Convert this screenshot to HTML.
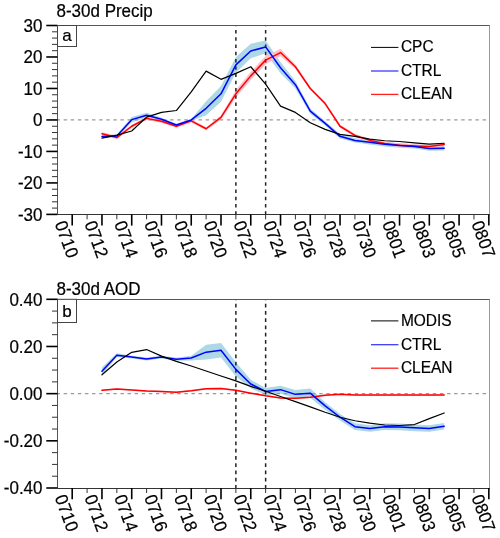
<!DOCTYPE html>
<html><head><meta charset="utf-8"><style>
html,body{margin:0;padding:0;background:#fff;width:500px;height:538px;overflow:hidden}
svg{display:block;will-change:transform}
text{font-family:'Liberation Sans',sans-serif;fill:#000;stroke:#000;stroke-width:0.2px}
</style></head><body>
<svg width="500" height="538" viewBox="0 0 500 538">
<rect width="500" height="538" fill="#fff"/>
<polygon points="101.96,134.90 116.84,134.43 131.72,117.12 146.60,112.71 161.48,117.75 176.36,123.73 191.24,119.01 206.12,101.37 221.00,85.95 235.88,56.98 250.76,43.76 265.64,40.61 280.52,62.02 295.40,80.91 310.28,108.62 325.16,121.21 340.04,134.12 354.92,138.21 369.80,140.10 384.68,141.99 399.56,143.25 414.44,144.19 429.32,146.40 444.20,146.08 444.20,150.49 429.32,150.80 414.44,148.60 399.56,147.66 384.68,146.40 369.80,144.51 354.92,142.62 340.04,138.53 325.16,125.62 310.28,113.65 295.40,88.47 280.52,73.35 265.64,53.21 250.76,58.24 235.88,72.72 221.00,101.69 206.12,115.23 191.24,120.89 176.36,126.25 161.48,120.89 146.60,117.75 131.72,122.15 116.84,137.58 101.96,138.05" fill="#add8e6" stroke="none"/>
<polygon points="101.96,132.07 116.84,136.01 131.72,124.67 146.60,116.80 161.48,119.64 176.36,124.67 191.24,119.32 206.12,127.19 221.00,115.23 235.88,90.04 250.76,71.78 265.64,56.04 280.52,48.80 295.40,64.54 310.28,86.89 325.16,102.00 340.04,124.67 354.92,133.80 369.80,138.84 384.68,141.99 399.56,143.56 414.44,144.35 429.32,144.82 444.20,142.93 444.20,146.08 429.32,147.97 414.44,147.50 399.56,146.71 384.68,145.14 369.80,141.99 354.92,136.95 340.04,127.82 325.16,105.15 310.28,90.04 295.40,68.95 280.52,56.35 265.64,64.22 250.76,79.97 235.88,97.60 221.00,119.64 206.12,130.34 191.24,122.47 176.36,127.82 161.48,122.78 146.60,119.95 131.72,127.82 116.84,139.15 101.96,135.22" fill="#ffc0cb" stroke="none"/>
<line x1="57.5" y1="119.95" x2="489.0" y2="119.95" stroke="#999" stroke-width="1.2" stroke-dasharray="3.4 3.7" stroke-dashoffset="0.95"/>
<line x1="235.88" y1="25.5" x2="235.88" y2="214.4" stroke="#222" stroke-width="1.5" stroke-dasharray="3.6 3.65" stroke-dashoffset="2.75"/>
<line x1="265.64" y1="25.5" x2="265.64" y2="214.4" stroke="#222" stroke-width="1.5" stroke-dasharray="3.6 3.65" stroke-dashoffset="2.75"/>
<polyline points="101.96,133.65 116.84,137.58 131.72,126.25 146.60,118.38 161.48,121.21 176.36,126.25 191.24,120.89 206.12,128.77 221.00,117.43 235.88,93.82 250.76,75.87 265.64,60.13 280.52,52.58 295.40,66.74 310.28,88.47 325.16,103.58 340.04,126.25 354.92,135.38 369.80,140.41 384.68,143.56 399.56,145.14 414.44,145.92 429.32,146.40 444.20,144.51" fill="none" stroke="#ff0000" stroke-width="1.5" stroke-linejoin="round" stroke-linecap="round"/>
<polyline points="101.96,136.48 116.84,136.01 131.72,119.64 146.60,115.23 161.48,119.32 176.36,124.99 191.24,119.95 206.12,108.30 221.00,93.82 235.88,64.85 250.76,51.00 265.64,46.91 280.52,67.69 295.40,84.69 310.28,111.13 325.16,123.41 340.04,136.32 354.92,140.41 369.80,142.30 384.68,144.19 399.56,145.45 414.44,146.40 429.32,148.60 444.20,148.29" fill="none" stroke="#0000ff" stroke-width="1.5" stroke-linejoin="round" stroke-linecap="round"/>
<polyline points="101.96,138.05 116.84,135.06 131.72,130.97 146.60,117.12 161.48,112.39 176.36,110.51 191.24,91.93 206.12,71.15 221.00,79.34 235.88,73.35 250.76,66.74 265.64,84.06 280.52,106.10 295.40,112.39 310.28,122.78 325.16,129.39 340.04,134.43 354.92,136.32 369.80,139.15 384.68,140.73 399.56,141.52 414.44,142.78 429.32,144.19 444.20,143.25" fill="none" stroke="#000" stroke-width="1.2" stroke-linejoin="round" stroke-linecap="round"/>
<line x1="57.5" y1="25.5" x2="490" y2="25.5" stroke="#555" stroke-width="1"/>
<line x1="57.5" y1="214.5" x2="490" y2="214.5" stroke="#333" stroke-width="1"/>
<line x1="57.5" y1="25.5" x2="57.5" y2="214.5" stroke="#555" stroke-width="1"/>
<line x1="489.5" y1="25.5" x2="489.5" y2="214.5" stroke="#999" stroke-width="1"/>
<line x1="46.3" y1="25.50" x2="57.5" y2="25.50" stroke="#000" stroke-width="1.6"/>
<line x1="46.3" y1="56.98" x2="57.5" y2="56.98" stroke="#000" stroke-width="1.6"/>
<line x1="46.3" y1="88.47" x2="57.5" y2="88.47" stroke="#000" stroke-width="1.6"/>
<line x1="46.3" y1="119.95" x2="57.5" y2="119.95" stroke="#000" stroke-width="1.6"/>
<line x1="46.3" y1="151.43" x2="57.5" y2="151.43" stroke="#000" stroke-width="1.6"/>
<line x1="46.3" y1="182.92" x2="57.5" y2="182.92" stroke="#000" stroke-width="1.6"/>
<line x1="46.3" y1="214.40" x2="57.5" y2="214.40" stroke="#000" stroke-width="1.6"/>
<line x1="52" y1="208.10" x2="57.5" y2="208.10" stroke="#333" stroke-width="1"/>
<line x1="52" y1="201.81" x2="57.5" y2="201.81" stroke="#333" stroke-width="1"/>
<line x1="52" y1="195.51" x2="57.5" y2="195.51" stroke="#333" stroke-width="1"/>
<line x1="52" y1="189.21" x2="57.5" y2="189.21" stroke="#333" stroke-width="1"/>
<line x1="52" y1="176.62" x2="57.5" y2="176.62" stroke="#333" stroke-width="1"/>
<line x1="52" y1="170.32" x2="57.5" y2="170.32" stroke="#333" stroke-width="1"/>
<line x1="52" y1="164.03" x2="57.5" y2="164.03" stroke="#333" stroke-width="1"/>
<line x1="52" y1="157.73" x2="57.5" y2="157.73" stroke="#333" stroke-width="1"/>
<line x1="52" y1="145.14" x2="57.5" y2="145.14" stroke="#333" stroke-width="1"/>
<line x1="52" y1="138.84" x2="57.5" y2="138.84" stroke="#333" stroke-width="1"/>
<line x1="52" y1="132.54" x2="57.5" y2="132.54" stroke="#333" stroke-width="1"/>
<line x1="52" y1="126.25" x2="57.5" y2="126.25" stroke="#333" stroke-width="1"/>
<line x1="52" y1="113.65" x2="57.5" y2="113.65" stroke="#333" stroke-width="1"/>
<line x1="52" y1="107.36" x2="57.5" y2="107.36" stroke="#333" stroke-width="1"/>
<line x1="52" y1="101.06" x2="57.5" y2="101.06" stroke="#333" stroke-width="1"/>
<line x1="52" y1="94.76" x2="57.5" y2="94.76" stroke="#333" stroke-width="1"/>
<line x1="52" y1="82.17" x2="57.5" y2="82.17" stroke="#333" stroke-width="1"/>
<line x1="52" y1="75.87" x2="57.5" y2="75.87" stroke="#333" stroke-width="1"/>
<line x1="52" y1="69.58" x2="57.5" y2="69.58" stroke="#333" stroke-width="1"/>
<line x1="52" y1="63.28" x2="57.5" y2="63.28" stroke="#333" stroke-width="1"/>
<line x1="52" y1="50.69" x2="57.5" y2="50.69" stroke="#333" stroke-width="1"/>
<line x1="52" y1="44.39" x2="57.5" y2="44.39" stroke="#333" stroke-width="1"/>
<line x1="52" y1="38.09" x2="57.5" y2="38.09" stroke="#333" stroke-width="1"/>
<line x1="52" y1="31.80" x2="57.5" y2="31.80" stroke="#333" stroke-width="1"/>
<text transform="translate(42.5,31.70) scale(1,1.045)" text-anchor="end" font-size="17">30</text>
<text transform="translate(42.5,63.18) scale(1,1.045)" text-anchor="end" font-size="17">20</text>
<text transform="translate(42.5,94.67) scale(1,1.045)" text-anchor="end" font-size="17">10</text>
<text transform="translate(42.5,126.15) scale(1,1.045)" text-anchor="end" font-size="17">0</text>
<text transform="translate(42.5,157.63) scale(1,1.045)" text-anchor="end" font-size="17">-10</text>
<text transform="translate(42.5,189.12) scale(1,1.045)" text-anchor="end" font-size="17">-20</text>
<text transform="translate(42.5,220.60) scale(1,1.045)" text-anchor="end" font-size="17">-30</text>
<line x1="72.20" y1="214.4" x2="72.20" y2="225.60" stroke="#000" stroke-width="1.6"/>
<line x1="87.08" y1="214.4" x2="87.08" y2="219.40" stroke="#333" stroke-width="1"/>
<line x1="101.96" y1="214.4" x2="101.96" y2="225.60" stroke="#000" stroke-width="1.6"/>
<line x1="116.84" y1="214.4" x2="116.84" y2="219.40" stroke="#333" stroke-width="1"/>
<line x1="131.72" y1="214.4" x2="131.72" y2="225.60" stroke="#000" stroke-width="1.6"/>
<line x1="146.60" y1="214.4" x2="146.60" y2="219.40" stroke="#333" stroke-width="1"/>
<line x1="161.48" y1="214.4" x2="161.48" y2="225.60" stroke="#000" stroke-width="1.6"/>
<line x1="176.36" y1="214.4" x2="176.36" y2="219.40" stroke="#333" stroke-width="1"/>
<line x1="191.24" y1="214.4" x2="191.24" y2="225.60" stroke="#000" stroke-width="1.6"/>
<line x1="206.12" y1="214.4" x2="206.12" y2="219.40" stroke="#333" stroke-width="1"/>
<line x1="221.00" y1="214.4" x2="221.00" y2="225.60" stroke="#000" stroke-width="1.6"/>
<line x1="235.88" y1="214.4" x2="235.88" y2="219.40" stroke="#333" stroke-width="1"/>
<line x1="250.76" y1="214.4" x2="250.76" y2="225.60" stroke="#000" stroke-width="1.6"/>
<line x1="265.64" y1="214.4" x2="265.64" y2="219.40" stroke="#333" stroke-width="1"/>
<line x1="280.52" y1="214.4" x2="280.52" y2="225.60" stroke="#000" stroke-width="1.6"/>
<line x1="295.40" y1="214.4" x2="295.40" y2="219.40" stroke="#333" stroke-width="1"/>
<line x1="310.28" y1="214.4" x2="310.28" y2="225.60" stroke="#000" stroke-width="1.6"/>
<line x1="325.16" y1="214.4" x2="325.16" y2="219.40" stroke="#333" stroke-width="1"/>
<line x1="340.04" y1="214.4" x2="340.04" y2="225.60" stroke="#000" stroke-width="1.6"/>
<line x1="354.92" y1="214.4" x2="354.92" y2="219.40" stroke="#333" stroke-width="1"/>
<line x1="369.80" y1="214.4" x2="369.80" y2="225.60" stroke="#000" stroke-width="1.6"/>
<line x1="384.68" y1="214.4" x2="384.68" y2="219.40" stroke="#333" stroke-width="1"/>
<line x1="399.56" y1="214.4" x2="399.56" y2="225.60" stroke="#000" stroke-width="1.6"/>
<line x1="414.44" y1="214.4" x2="414.44" y2="219.40" stroke="#333" stroke-width="1"/>
<line x1="429.32" y1="214.4" x2="429.32" y2="225.60" stroke="#000" stroke-width="1.6"/>
<line x1="444.20" y1="214.4" x2="444.20" y2="219.40" stroke="#333" stroke-width="1"/>
<line x1="459.08" y1="214.4" x2="459.08" y2="225.60" stroke="#000" stroke-width="1.6"/>
<line x1="473.96" y1="214.4" x2="473.96" y2="219.40" stroke="#333" stroke-width="1"/>
<line x1="488.84" y1="214.4" x2="488.84" y2="225.60" stroke="#000" stroke-width="1.6"/>
<text transform="translate(66.70,239.20) rotate(70) translate(0,6) scale(1,1.045)" text-anchor="middle" font-size="17">0710</text>
<text transform="translate(96.46,239.20) rotate(70) translate(0,6) scale(1,1.045)" text-anchor="middle" font-size="17">0712</text>
<text transform="translate(126.22,239.20) rotate(70) translate(0,6) scale(1,1.045)" text-anchor="middle" font-size="17">0714</text>
<text transform="translate(155.98,239.20) rotate(70) translate(0,6) scale(1,1.045)" text-anchor="middle" font-size="17">0716</text>
<text transform="translate(185.74,239.20) rotate(70) translate(0,6) scale(1,1.045)" text-anchor="middle" font-size="17">0718</text>
<text transform="translate(215.50,239.20) rotate(70) translate(0,6) scale(1,1.045)" text-anchor="middle" font-size="17">0720</text>
<text transform="translate(245.26,239.20) rotate(70) translate(0,6) scale(1,1.045)" text-anchor="middle" font-size="17">0722</text>
<text transform="translate(275.02,239.20) rotate(70) translate(0,6) scale(1,1.045)" text-anchor="middle" font-size="17">0724</text>
<text transform="translate(304.78,239.20) rotate(70) translate(0,6) scale(1,1.045)" text-anchor="middle" font-size="17">0726</text>
<text transform="translate(334.54,239.20) rotate(70) translate(0,6) scale(1,1.045)" text-anchor="middle" font-size="17">0728</text>
<text transform="translate(364.30,239.20) rotate(70) translate(0,6) scale(1,1.045)" text-anchor="middle" font-size="17">0730</text>
<text transform="translate(394.06,239.20) rotate(70) translate(0,6) scale(1,1.045)" text-anchor="middle" font-size="17">0801</text>
<text transform="translate(423.82,239.20) rotate(70) translate(0,6) scale(1,1.045)" text-anchor="middle" font-size="17">0803</text>
<text transform="translate(453.58,239.20) rotate(70) translate(0,6) scale(1,1.045)" text-anchor="middle" font-size="17">0805</text>
<text transform="translate(483.34,239.20) rotate(70) translate(0,6) scale(1,1.045)" text-anchor="middle" font-size="17">0807</text>
<text transform="translate(56.5,17.45) scale(1,1.075)" font-size="17">8-30d Precip</text>
<rect x="57.5" y="25.5" width="19.0" height="21.0" fill="#fff" stroke="#444" stroke-width="1"/>
<text x="67.00" y="41" text-anchor="middle" font-size="17">a</text>
<line x1="371" y1="47.4" x2="398.4" y2="47.4" stroke="#000" stroke-width="1"/>
<text transform="translate(400.9,52.30) scale(1,1.04)" font-size="15.5">CPC</text>
<line x1="371" y1="71" x2="398.4" y2="71" stroke="#3c3cff" stroke-width="1.3"/>
<text transform="translate(400.9,75.90) scale(1,1.04)" font-size="15.5">CTRL</text>
<line x1="371" y1="94.4" x2="398.4" y2="94.4" stroke="#ff2020" stroke-width="1.3"/>
<text transform="translate(400.9,99.30) scale(1,1.04)" font-size="15.5">CLEAN</text>
<polygon points="101.96,367.47 116.84,353.32 131.72,355.67 146.60,357.56 161.48,355.67 176.36,357.80 191.24,355.67 206.12,344.82 221.00,342.94 235.88,362.28 250.76,379.73 265.64,387.99 280.52,385.87 295.40,390.11 310.28,388.46 325.16,402.14 340.04,413.94 354.92,423.37 369.80,425.26 384.68,423.37 399.56,423.61 414.44,424.55 429.32,425.26 444.20,422.90 444.20,429.50 429.32,431.86 414.44,431.15 399.56,430.21 384.68,429.97 369.80,431.86 354.92,429.97 340.04,420.54 325.16,409.69 310.28,397.90 295.40,398.60 280.52,393.41 265.64,395.07 250.76,388.22 235.88,376.43 221.00,357.56 206.12,359.45 191.24,360.39 176.36,360.63 161.48,358.50 146.60,360.39 131.72,358.50 116.84,357.09 101.96,375.02" fill="#add8e6" stroke="none"/>
<polygon points="101.96,389.64 116.84,388.22 131.72,389.17 146.60,390.35 161.48,390.82 176.36,391.53 191.24,390.11 206.12,387.99 221.00,387.75 235.88,389.64 250.76,392.47 265.64,395.07 280.52,397.19 295.40,397.66 310.28,396.48 325.16,394.59 340.04,393.65 354.92,394.36 369.80,394.36 384.68,394.36 399.56,394.36 414.44,394.36 429.32,394.36 444.20,394.36 444.20,395.77 429.32,395.77 414.44,395.77 399.56,395.77 384.68,395.77 369.80,395.77 354.92,395.77 340.04,395.07 325.16,396.01 310.28,397.90 295.40,399.08 280.52,398.60 265.64,396.48 250.76,393.89 235.88,391.06 221.00,389.17 206.12,389.40 191.24,391.53 176.36,392.94 161.48,392.23 146.60,391.76 131.72,390.58 116.84,389.64 101.96,391.06" fill="#ffc0cb" stroke="none"/>
<line x1="57.5" y1="393.65" x2="489.0" y2="393.65" stroke="#999" stroke-width="1.2" stroke-dasharray="3.4 3.7" stroke-dashoffset="0.95"/>
<line x1="235.88" y1="299.3" x2="235.88" y2="488.0" stroke="#222" stroke-width="1.5" stroke-dasharray="3.6 3.65" stroke-dashoffset="2.75"/>
<line x1="265.64" y1="299.3" x2="265.64" y2="488.0" stroke="#222" stroke-width="1.5" stroke-dasharray="3.6 3.65" stroke-dashoffset="2.75"/>
<polyline points="101.96,390.35 116.84,388.93 131.72,389.88 146.60,391.06 161.48,391.53 176.36,392.23 191.24,390.82 206.12,388.70 221.00,388.46 235.88,390.35 250.76,393.18 265.64,395.77 280.52,397.90 295.40,398.37 310.28,397.19 325.16,395.30 340.04,394.36 354.92,395.07 369.80,395.07 384.68,395.07 399.56,395.07 414.44,395.07 429.32,395.07 444.20,395.07" fill="none" stroke="#ff0000" stroke-width="1.5" stroke-linejoin="round" stroke-linecap="round"/>
<polyline points="101.96,371.24 116.84,355.20 131.72,357.09 146.60,358.98 161.48,357.09 176.36,359.21 191.24,358.03 206.12,352.14 221.00,350.25 235.88,369.35 250.76,383.98 265.64,391.53 280.52,389.64 295.40,394.36 310.28,393.18 325.16,405.92 340.04,417.24 354.92,426.67 369.80,428.56 384.68,426.67 399.56,426.91 414.44,427.85 429.32,428.56 444.20,426.20" fill="none" stroke="#0000ff" stroke-width="1.5" stroke-linejoin="round" stroke-linecap="round"/>
<polyline points="101.96,374.78 116.84,362.04 131.72,352.37 146.60,349.54 161.48,356.15 176.36,361.34 191.24,366.05 206.12,371.01 221.00,375.96 235.88,380.91 250.76,386.34 265.64,391.29 280.52,396.48 295.40,401.67 310.28,406.86 325.16,412.28 340.04,417.24 354.92,420.78 369.80,423.13 384.68,425.02 399.56,425.49 414.44,424.55 429.32,418.65 444.20,412.99" fill="none" stroke="#000" stroke-width="1.2" stroke-linejoin="round" stroke-linecap="round"/>
<line x1="57.5" y1="299.5" x2="490" y2="299.5" stroke="#555" stroke-width="1"/>
<line x1="57.5" y1="488.5" x2="490" y2="488.5" stroke="#333" stroke-width="1"/>
<line x1="57.5" y1="299.5" x2="57.5" y2="488.5" stroke="#555" stroke-width="1"/>
<line x1="489.5" y1="299.5" x2="489.5" y2="488.5" stroke="#999" stroke-width="1"/>
<line x1="46.3" y1="299.30" x2="57.5" y2="299.30" stroke="#000" stroke-width="1.6"/>
<line x1="46.3" y1="346.48" x2="57.5" y2="346.48" stroke="#000" stroke-width="1.6"/>
<line x1="46.3" y1="393.65" x2="57.5" y2="393.65" stroke="#000" stroke-width="1.6"/>
<line x1="46.3" y1="440.83" x2="57.5" y2="440.83" stroke="#000" stroke-width="1.6"/>
<line x1="46.3" y1="488.00" x2="57.5" y2="488.00" stroke="#000" stroke-width="1.6"/>
<line x1="52" y1="476.21" x2="57.5" y2="476.21" stroke="#333" stroke-width="1"/>
<line x1="52" y1="464.41" x2="57.5" y2="464.41" stroke="#333" stroke-width="1"/>
<line x1="52" y1="452.62" x2="57.5" y2="452.62" stroke="#333" stroke-width="1"/>
<line x1="52" y1="429.03" x2="57.5" y2="429.03" stroke="#333" stroke-width="1"/>
<line x1="52" y1="417.24" x2="57.5" y2="417.24" stroke="#333" stroke-width="1"/>
<line x1="52" y1="405.44" x2="57.5" y2="405.44" stroke="#333" stroke-width="1"/>
<line x1="52" y1="381.86" x2="57.5" y2="381.86" stroke="#333" stroke-width="1"/>
<line x1="52" y1="370.06" x2="57.5" y2="370.06" stroke="#333" stroke-width="1"/>
<line x1="52" y1="358.27" x2="57.5" y2="358.27" stroke="#333" stroke-width="1"/>
<line x1="52" y1="334.68" x2="57.5" y2="334.68" stroke="#333" stroke-width="1"/>
<line x1="52" y1="322.89" x2="57.5" y2="322.89" stroke="#333" stroke-width="1"/>
<line x1="52" y1="311.09" x2="57.5" y2="311.09" stroke="#333" stroke-width="1"/>
<text transform="translate(42.5,305.50) scale(1,1.045)" text-anchor="end" font-size="17">0.40</text>
<text transform="translate(42.5,352.68) scale(1,1.045)" text-anchor="end" font-size="17">0.20</text>
<text transform="translate(42.5,399.85) scale(1,1.045)" text-anchor="end" font-size="17">0.00</text>
<text transform="translate(42.5,447.03) scale(1,1.045)" text-anchor="end" font-size="17">-0.20</text>
<text transform="translate(42.5,494.20) scale(1,1.045)" text-anchor="end" font-size="17">-0.40</text>
<line x1="72.20" y1="488.0" x2="72.20" y2="499.20" stroke="#000" stroke-width="1.6"/>
<line x1="87.08" y1="488.0" x2="87.08" y2="493.00" stroke="#333" stroke-width="1"/>
<line x1="101.96" y1="488.0" x2="101.96" y2="499.20" stroke="#000" stroke-width="1.6"/>
<line x1="116.84" y1="488.0" x2="116.84" y2="493.00" stroke="#333" stroke-width="1"/>
<line x1="131.72" y1="488.0" x2="131.72" y2="499.20" stroke="#000" stroke-width="1.6"/>
<line x1="146.60" y1="488.0" x2="146.60" y2="493.00" stroke="#333" stroke-width="1"/>
<line x1="161.48" y1="488.0" x2="161.48" y2="499.20" stroke="#000" stroke-width="1.6"/>
<line x1="176.36" y1="488.0" x2="176.36" y2="493.00" stroke="#333" stroke-width="1"/>
<line x1="191.24" y1="488.0" x2="191.24" y2="499.20" stroke="#000" stroke-width="1.6"/>
<line x1="206.12" y1="488.0" x2="206.12" y2="493.00" stroke="#333" stroke-width="1"/>
<line x1="221.00" y1="488.0" x2="221.00" y2="499.20" stroke="#000" stroke-width="1.6"/>
<line x1="235.88" y1="488.0" x2="235.88" y2="493.00" stroke="#333" stroke-width="1"/>
<line x1="250.76" y1="488.0" x2="250.76" y2="499.20" stroke="#000" stroke-width="1.6"/>
<line x1="265.64" y1="488.0" x2="265.64" y2="493.00" stroke="#333" stroke-width="1"/>
<line x1="280.52" y1="488.0" x2="280.52" y2="499.20" stroke="#000" stroke-width="1.6"/>
<line x1="295.40" y1="488.0" x2="295.40" y2="493.00" stroke="#333" stroke-width="1"/>
<line x1="310.28" y1="488.0" x2="310.28" y2="499.20" stroke="#000" stroke-width="1.6"/>
<line x1="325.16" y1="488.0" x2="325.16" y2="493.00" stroke="#333" stroke-width="1"/>
<line x1="340.04" y1="488.0" x2="340.04" y2="499.20" stroke="#000" stroke-width="1.6"/>
<line x1="354.92" y1="488.0" x2="354.92" y2="493.00" stroke="#333" stroke-width="1"/>
<line x1="369.80" y1="488.0" x2="369.80" y2="499.20" stroke="#000" stroke-width="1.6"/>
<line x1="384.68" y1="488.0" x2="384.68" y2="493.00" stroke="#333" stroke-width="1"/>
<line x1="399.56" y1="488.0" x2="399.56" y2="499.20" stroke="#000" stroke-width="1.6"/>
<line x1="414.44" y1="488.0" x2="414.44" y2="493.00" stroke="#333" stroke-width="1"/>
<line x1="429.32" y1="488.0" x2="429.32" y2="499.20" stroke="#000" stroke-width="1.6"/>
<line x1="444.20" y1="488.0" x2="444.20" y2="493.00" stroke="#333" stroke-width="1"/>
<line x1="459.08" y1="488.0" x2="459.08" y2="499.20" stroke="#000" stroke-width="1.6"/>
<line x1="473.96" y1="488.0" x2="473.96" y2="493.00" stroke="#333" stroke-width="1"/>
<line x1="488.84" y1="488.0" x2="488.84" y2="499.20" stroke="#000" stroke-width="1.6"/>
<text transform="translate(66.70,513.00) rotate(70) translate(0,6) scale(1,1.045)" text-anchor="middle" font-size="17">0710</text>
<text transform="translate(96.46,513.00) rotate(70) translate(0,6) scale(1,1.045)" text-anchor="middle" font-size="17">0712</text>
<text transform="translate(126.22,513.00) rotate(70) translate(0,6) scale(1,1.045)" text-anchor="middle" font-size="17">0714</text>
<text transform="translate(155.98,513.00) rotate(70) translate(0,6) scale(1,1.045)" text-anchor="middle" font-size="17">0716</text>
<text transform="translate(185.74,513.00) rotate(70) translate(0,6) scale(1,1.045)" text-anchor="middle" font-size="17">0718</text>
<text transform="translate(215.50,513.00) rotate(70) translate(0,6) scale(1,1.045)" text-anchor="middle" font-size="17">0720</text>
<text transform="translate(245.26,513.00) rotate(70) translate(0,6) scale(1,1.045)" text-anchor="middle" font-size="17">0722</text>
<text transform="translate(275.02,513.00) rotate(70) translate(0,6) scale(1,1.045)" text-anchor="middle" font-size="17">0724</text>
<text transform="translate(304.78,513.00) rotate(70) translate(0,6) scale(1,1.045)" text-anchor="middle" font-size="17">0726</text>
<text transform="translate(334.54,513.00) rotate(70) translate(0,6) scale(1,1.045)" text-anchor="middle" font-size="17">0728</text>
<text transform="translate(364.30,513.00) rotate(70) translate(0,6) scale(1,1.045)" text-anchor="middle" font-size="17">0730</text>
<text transform="translate(394.06,513.00) rotate(70) translate(0,6) scale(1,1.045)" text-anchor="middle" font-size="17">0801</text>
<text transform="translate(423.82,513.00) rotate(70) translate(0,6) scale(1,1.045)" text-anchor="middle" font-size="17">0803</text>
<text transform="translate(453.58,513.00) rotate(70) translate(0,6) scale(1,1.045)" text-anchor="middle" font-size="17">0805</text>
<text transform="translate(483.34,513.00) rotate(70) translate(0,6) scale(1,1.045)" text-anchor="middle" font-size="17">0807</text>
<text transform="translate(56.5,295.4) scale(1,1.075)" font-size="17">8-30d AOD</text>
<rect x="57.5" y="299.3" width="19.0" height="23.19999999999999" fill="#fff" stroke="#444" stroke-width="1"/>
<text x="67.00" y="317" text-anchor="middle" font-size="17">b</text>
<line x1="371" y1="320.9" x2="398.4" y2="320.9" stroke="#000" stroke-width="1"/>
<text transform="translate(400.9,325.80) scale(1,1.04)" font-size="15.5">MODIS</text>
<line x1="371" y1="344.7" x2="398.4" y2="344.7" stroke="#3c3cff" stroke-width="1.3"/>
<text transform="translate(400.9,349.60) scale(1,1.04)" font-size="15.5">CTRL</text>
<line x1="371" y1="368.2" x2="398.4" y2="368.2" stroke="#ff2020" stroke-width="1.3"/>
<text transform="translate(400.9,373.10) scale(1,1.04)" font-size="15.5">CLEAN</text>
</svg>
</body></html>
